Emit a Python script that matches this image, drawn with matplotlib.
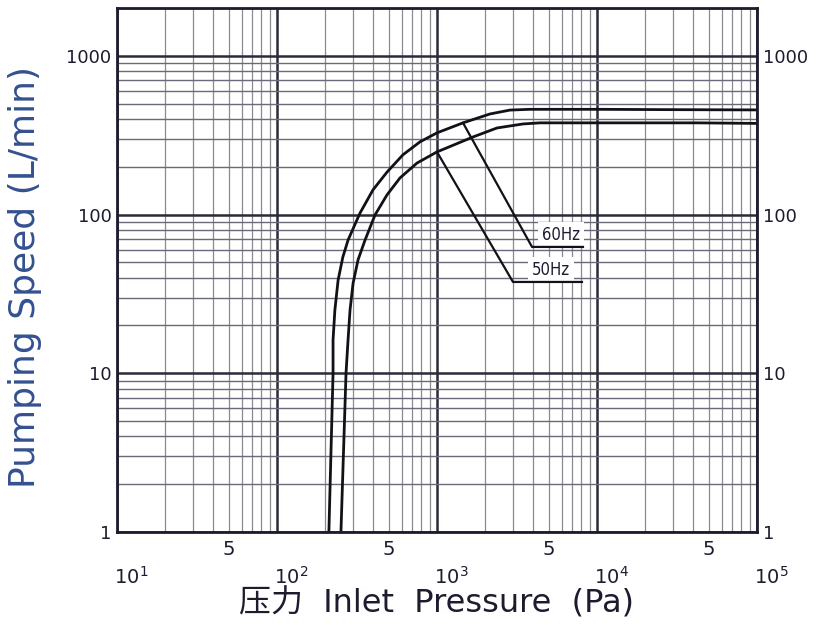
import numpy as np
import matplotlib.pyplot as plt
from matplotlib.ticker import LogLocator, NullFormatter

# pumping speed curves (Pa, L/min)
p_60 = [211, 224, 224, 230, 241, 258, 278, 316, 330, 398, 487, 613, 783,
        1000, 1454, 2143, 2858, 3811, 10000, 25860, 100000]
s_60 = [1, 10, 16.2, 25, 38.7, 54, 69, 92.5, 102, 143, 185, 238, 287,
        327, 378, 430, 455, 460, 460, 458, 456]
p_50 = [251, 270, 278, 286, 299, 321, 355, 410, 487, 587, 750,
        1000, 1679, 2371, 3447, 4406, 10000, 42170, 100000]
s_50 = [1, 10, 16.2, 25, 37, 51.8, 69, 99.4, 133, 170, 211,
        248, 308, 351, 372, 378, 378, 378, 375]

# leader lines: start on curve, elbow, end of underline
lead_60 = [(1454, 378), (3926, 62.5), (8175, 62.5)]
lead_50 = [(1000, 248), (2985, 37.6), (8054, 37.6)]
labels = ["60Hz", "50Hz"]

x_dec = [10, 100, 1000, 10000, 100000]
x_dec_lbl = ["10$^1$", "10$^2$", "10$^3$", "10$^4$", "10$^5$"]
x_five = [50, 500, 5000, 50000]
y_ticks = [1, 10, 100, 1000]
y_lbl = ["1", "10", "100", "1000"]

ink = "#1c1c2e"
fig = plt.figure(figsize=(8.2, 6.25), dpi=100)
ax = fig.add_axes([117/820, 93/625, 640/820, 524/625])
ax.set_xscale("log")
ax.set_yscale("log")
ax.set_xlim(10, 1e5)
ax.set_ylim(1, 2000)

ax.xaxis.set_minor_locator(LogLocator(base=10, subs=np.arange(2, 10)))
ax.yaxis.set_minor_locator(LogLocator(base=10, subs=np.arange(2, 10)))
ax.grid(which="major", color="#2a2a38", linewidth=1.8)
ax.grid(which="minor", axis="x", color="#8a8a90", linewidth=0.9)
ax.grid(which="minor", axis="y", color="#6a6a7a", linewidth=1.0)
ax.set_axisbelow(True)
for sp in ax.spines.values():
    sp.set_linewidth(2)
    sp.set_color(ink)

ax.tick_params(which="both", length=0)
ax.set_xticks(x_dec)
ax.xaxis.set_major_formatter(NullFormatter())
ax.xaxis.set_minor_formatter(NullFormatter())
ax.set_yticks(y_ticks)
ax.set_yticklabels(y_lbl)
ax.yaxis.set_minor_formatter(NullFormatter())
ax.tick_params(axis="y", which="major", labelsize=13, labelcolor=ink, pad=4,
               labelleft=True, labelright=True)

xt = ax.get_xaxis_transform()
for v, s in zip(x_dec, x_dec_lbl):
    ax.text(v * 1.23, -0.085, s, transform=xt, ha="center", va="center",
            fontsize=14, color=ink)
for v in x_five:
    ax.text(v, -0.033, "5", transform=xt, ha="center", va="center",
            fontsize=14, color=ink)

ax.plot(p_60, s_60, color="#111118", linewidth=2)
ax.plot(p_50, s_50, color="#111118", linewidth=2)

for lead, lbl in zip([lead_60, lead_50], labels):
    xs = [p[0] for p in lead]
    ys = [p[1] for p in lead]
    ax.text(np.sqrt(xs[1] * xs[2]) * 1.05, ys[1] * 1.04, lbl, ha="center", va="bottom",
            fontsize=12, color=ink, fontstretch="condensed",
            bbox=dict(facecolor="white", edgecolor="none", pad=3), zorder=3)
    ax.plot(xs, ys, color="#111118", linewidth=1.6, zorder=4)

ax.set_ylabel("Pumping Speed (L/min)", fontsize=26, color="#34508f")
ax.yaxis.set_label_coords(-0.117, 0.487)
ax.set_xlabel("压力  Inlet  Pressure  (Pa)", fontsize=23, color=ink,
              family=["DejaVu Sans", "Noto Sans CJK SC"])
ax.xaxis.set_label_coords(0.5, -0.108)

fig.savefig("out.png", dpi=100)
